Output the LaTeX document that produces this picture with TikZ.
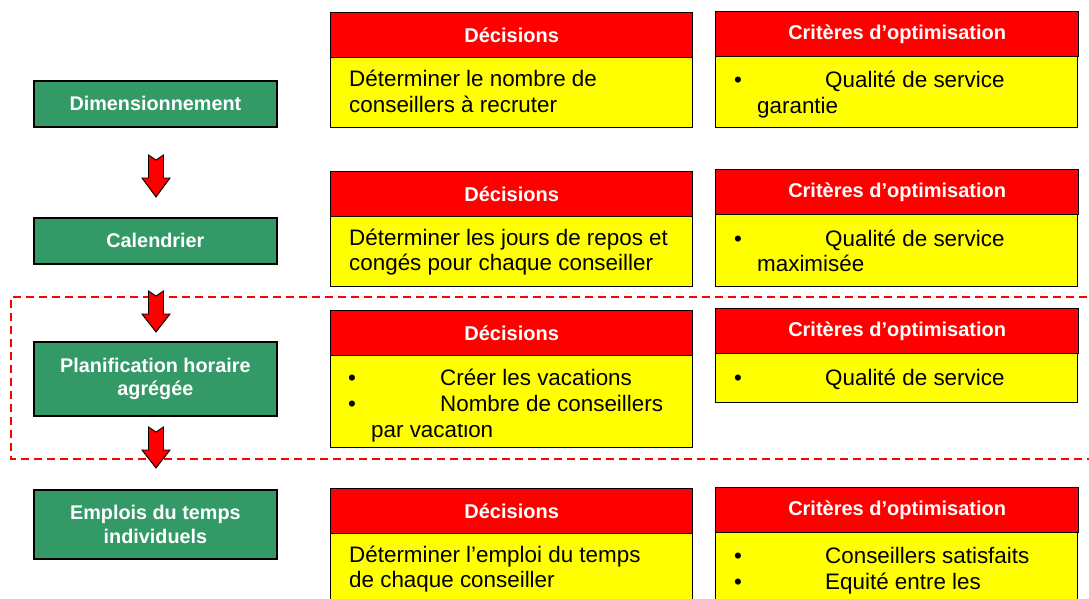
\documentclass[tikz,border=0pt]{standalone}
\usepackage{fontspec}
\setmainfont{Liberation Sans}
\definecolor{stagegreen}{RGB}{51,153,102}
\definecolor{headred}{RGB}{255,0,0}
\definecolor{bodyyellow}{RGB}{255,255,0}
\begin{document}
\begin{tikzpicture}[x=1pt,y=-1pt,
  stage/.style={draw=black, line width=1.8pt, fill=stagegreen, text=white,
    font=\fontsize{19.8}{23.5}\selectfont\bfseries, align=center,
    minimum width=243pt, minimum height=46pt, inner sep=0pt, anchor=north west},
  headbox/.style={draw=black, line width=1.3pt, fill=headred, text=white,
    font=\fontsize{20}{24}\selectfont\bfseries, minimum width=362pt,
    minimum height=45pt, inner sep=0pt, anchor=north west},
  bodybox/.style={draw=black, line width=1.3pt, fill=bodyyellow,
    minimum width=362pt, inner sep=0pt, anchor=north west},
  bodytxt/.style={font=\fontsize{22.4}{26}\selectfont, inner sep=0pt, anchor=base west},
  blockarrow/.style={draw=black, line width=0.9pt, fill=headred, line join=miter},
  zone/.style={draw=headred, line width=1.5pt, dash pattern=on 8pt off 5pt}
]
\useasboundingbox (0,0) rectangle (1089,598);
\clip (0,0) rectangle (1089,598);

% stages of the planning process
\node[stage] (s1) at (33,80) {Dimensionnement};
\node[stage] (s2) at (33,217) {Calendrier};
\node[stage, minimum height=74pt] (s3) at (33,341) {Planification horaire\\agrégée};
\node[stage, minimum height=69pt] (s4) at (33,489) {Emplois du temps\\individuels};

% dashed frame around the aggregated planning level
\draw[zone] (1100,297) -- (11,297) -- (11,459) -- (1100,459);

% block arrows between the stages
\newcommand{\blockarrowat}[2]{%
  \draw[blockarrow] ([shift={(-7.5,0)}]#1) -- ([shift={(0,5)}]#1) -- ([shift={(7.5,0)}]#1)
    -- ([shift={(7.5,23)}]#1) -- ([shift={(14,23)}]#1) -- ([shift={(0,#2)}]#1)
    -- ([shift={(-14,23)}]#1) -- ([shift={(-7.5,23)}]#1) -- cycle;}
\coordinate (a1) at (156,155);
\coordinate (a2) at (156,291);
\coordinate (a3) at (156,427);
\blockarrowat{a1}{42}
\blockarrowat{a2}{41}
\blockarrowat{a3}{41}

% row 1
\node[bodybox, minimum height=70pt] (d1b) at (330,57) {};
\node[headbox] (d1h) at (330,12) {Décisions};
\node[bodybox, minimum height=71pt] (c1b) at (715,56) {};
\node[headbox, minimum width=363pt] (c1h) at (715,11) {Critères d’optimisation};
\node[bodytxt] (d1l1) at (349,86) {Déterminer le nombre de};
\node[bodytxt] (d1l2) at (349,112) {conseillers à recruter};
\node[bodytxt] (c1p1) at (734,87) {•};
\node[bodytxt] (c1l1) at (825,87) {Qualité de service};
\node[bodytxt] (c1l2) at (757,113) {garantie};

% row 2
\node[bodybox, minimum height=70pt] (d2b) at (330,216) {};
\node[headbox] (d2h) at (330,171) {Décisions};
\node[bodybox, minimum height=72pt] (c2b) at (715,214) {};
\node[headbox, minimum width=363pt] (c2h) at (715,169) {Critères d’optimisation};
\node[bodytxt] (d2l1) at (349,245) {Déterminer les jours de repos et};
\node[bodytxt] (d2l2) at (349,270) {congés pour chaque conseiller};
\node[bodytxt] (c2p1) at (734,246) {•};
\node[bodytxt] (c2l1) at (825,246) {Qualité de service};
\node[bodytxt] (c2l2) at (757,271) {maximisée};

% row 3
\node[bodybox, minimum height=92pt] (d3b) at (330,355) {};
\node[headbox] (d3h) at (330,310) {Décisions};
\node[bodybox, minimum height=49pt] (c3b) at (715,353) {};
\node[headbox, minimum width=363pt] (c3h) at (715,308) {Critères d’optimisation};
\node[bodytxt] (d3p1) at (348,385) {•};
\node[bodytxt] (d3l1) at (440,385) {Créer les vacations};
\node[bodytxt] (d3p2) at (348,411) {•};
\node[bodytxt] (d3l2) at (440,411) {Nombre de conseillers};
\begin{scope}
  \clip (330,424) rectangle (692,447);
  \node[bodytxt] (d3l3) at (371,437) {par vacation};
\end{scope}
\node[bodytxt] (c3p1) at (734,385) {•};
\node[bodytxt] (c3l1) at (825,385) {Qualité de service};

% row 4
\node[bodybox, minimum height=80pt] (d4b) at (330,533) {};
\node[headbox] (d4h) at (330,488) {Décisions};
\node[bodybox, minimum height=80pt] (c4b) at (715,532) {};
\node[headbox, minimum width=363pt] (c4h) at (715,487) {Critères d’optimisation};
\node[bodytxt] (d4l1) at (349,562) {Déterminer l’emploi du temps};
\node[bodytxt] (d4l2) at (349,587) {de chaque conseiller};
\node[bodytxt] (c4p1) at (734,563) {•};
\node[bodytxt] (c4l1) at (825,563) {Conseillers satisfaits};
\node[bodytxt] (c4p2) at (734,589) {•};
\node[bodytxt] (c4l2) at (825,589) {Equité entre les};
\end{tikzpicture}
\end{document}
